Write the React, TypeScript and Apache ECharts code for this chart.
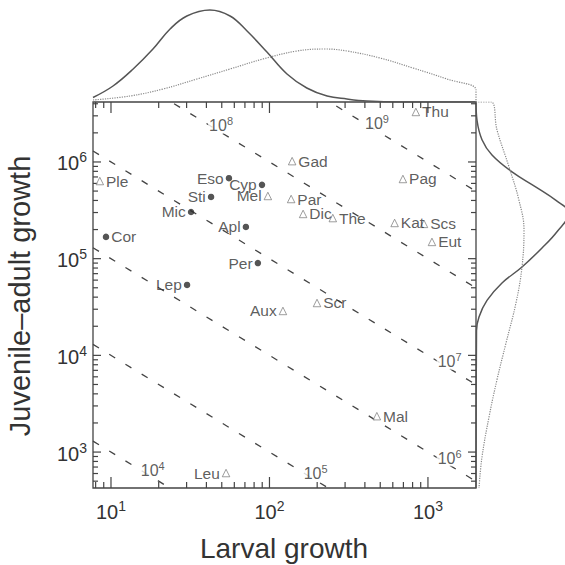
import React, { useEffect, useRef } from "react";
import * as echarts from "echarts";

// Axis ranges (read from the frame edges)
const X_MIN = 7.7;
const X_MAX = 2010;
const Y_MIN = 425;
const Y_MAX = 4.17e6;

// Filled circles
const circleNames = ["Cor", "Eso", "Cyp", "Sti", "Mic", "Apl", "Per", "Lep"];
const circleX = [9.3, 55.5, 89.7, 42.8, 32, 71, 84.5, 30.2];
const circleY = [1.68e5, 6.8e5, 5.8e5, 4.35e5, 3.04e5, 2.13e5, 9.0e4, 5.35e4];
const circleSide = ["right", "left", "left", "left", "left", "left", "left", "left"];

// Open triangles
const triNames = ["Ple", "Mel", "Aux", "Scr", "Mal", "Leu", "Gad", "Par", "Dic", "The", "Pag", "Kat", "Scs", "Eut", "Thu"];
const triX = [8.5, 97.7, 121.6, 199.5, 476, 53.2, 139, 137, 163, 251, 695, 616, 944, 1060, 839];
const triY = [6.35e5, 4.45e5, 2.88e4, 3.48e4, 2.35e3, 607, 1.02e6, 4.14e5, 2.9e5, 2.63e5, 6.67e5, 2.34e5, 2.29e5, 1.49e5, 3.29e6];
const triSide = ["right", "left", "left", "right", "right", "left", "right", "right", "right", "right", "right", "right", "right", "right", "right"];

// Iso-lines x*y = 10^k and where their labels sit (x position)
const isoLevels = [4, 5, 6, 7, 8, 9];
const isoLabelX = [15.2, 162, 1135, 1135, 41, 395];

// Tick positions
const xTicksMajor = [10, 100, 1000];
const xTicksMinor = [8, 9, 20, 30, 40, 50, 60, 70, 80, 90, 200, 300, 400, 500, 600, 700, 800, 900];
const yTicksMajor = [1e3, 1e4, 1e5, 1e6];
const yTicksMinor = [500, 600, 700, 800, 900, 2e3, 3e3, 4e3, 5e3, 6e3, 7e3, 8e3, 9e3, 2e4, 3e4, 4e4, 5e4, 6e4, 7e4, 8e4, 9e4, 2e5, 3e5, 4e5, 5e5, 6e5, 7e5, 8e5, 9e5, 2e6, 3e6, 4e6];

// Top marginal densities (height in px above the frame)
const topSolidX = [7.7, 10.3, 13.8, 18.4, 23.6, 30.1, 42.1, 56.4, 72.2, 96.4, 129, 172, 231, 308, 412, 665, 2010];
const topSolidH = [4.5, 16, 33, 53, 73, 86, 92, 86, 71, 50, 28, 14, 6, 3, 1, 0, 0];
const topDotX = [7.7, 13.2, 21.3, 34.9, 56.4, 91, 149, 224, 308, 498, 804, 1318, 2010, 2010];
const topDotH = [2, 6, 13, 23, 33, 43, 51, 53, 51, 44, 34, 23, 12, 0];

// Right marginal densities (width in px right of the frame)
const rightSolidY = [4.17e6, 2.7e6, 1.7e6, 1.18e6, 7.9e5, 5.5e5, 4.0e5, 2.97e5, 1.9e5, 1.29e5, 8.2e4, 5.6e4, 3.7e4, 2.5e4, 1.8e4, 425];
const rightSolidH = [0, 1, 6, 16, 36, 60, 80, 93, 81, 66, 46, 26, 11, 3, 0.5, 0];
const rightDotY = [4.17e6, 4.17e6, 2.14e6, 8.9e5, 4.0e5, 1.98e5, 8.2e4, 3.5e4, 1.34e4, 5.6e3, 2.3e3, 890, 425];
const rightDotH = [0, 15, 21, 33, 43, 48, 46, 40, 30, 21, 13, 6, 3];

const FONT = "'Liberation Sans', Arial, Helvetica, sans-serif";
const TEXT = "#333";
const INK = "#444";

function decadeLabel(v: number) {
  const l = Math.log10(v);
  if (Math.abs(l - Math.round(l)) < 1e-6) return `{b|10}{s|${Math.round(l)}}`;
  return "";
}

const tickRich = {
  b: { fontSize: 20, fontFamily: FONT, color: TEXT, lineHeight: 23, verticalAlign: "bottom" },
  s: { fontSize: 14, fontFamily: FONT, color: TEXT, lineHeight: 12, verticalAlign: "top" },
};
const isoRich = {
  b: { fontSize: 16, fontFamily: FONT, color: TEXT, lineHeight: 18, verticalAlign: "bottom" },
  s: { fontSize: 11, fontFamily: FONT, color: TEXT, lineHeight: 10, verticalAlign: "top" },
};

export default function App() {
  const ref = useRef<HTMLDivElement>(null);
  useEffect(() => {
    document.body.style.margin = "0";
    if (!ref.current) return;
    const chart = echarts.init(ref.current, null, { renderer: "svg" });

    const xTickData = [
      ...xTicksMajor.map((v) => [v, Y_MIN, 1]),
      ...xTicksMinor.map((v) => [v, Y_MIN, 0]),
    ];
    const yTickData = [
      ...yTicksMajor.map((v) => [X_MIN, v, 1]),
      ...yTicksMinor.map((v) => [X_MIN, v, 0]),
    ];

    const tickStyle = { stroke: INK, lineWidth: 1.2 };

    const isoLines = isoLevels.map((k) => ({
      type: "line",
      xAxisIndex: 0,
      yAxisIndex: 0,
      z: 2,
      silent: true,
      showSymbol: false,
      symbol: "none",
      clip: true,
      lineStyle: { color: INK, width: 1.3, type: [7, 12] },
      data: [
        [X_MIN, Math.pow(10, k) / X_MIN],
        [X_MAX, Math.pow(10, k) / X_MAX],
      ],
    }));

    const option = {
      animation: false,
      backgroundColor: "#fff",
      textStyle: { fontFamily: FONT },
      grid: [
        { left: 93, top: 102, width: 383, height: 386, show: true, borderColor: INK, borderWidth: 1.3, backgroundColor: "transparent" },
        { left: 93, top: 0, width: 383, height: 102 },
        { left: 476, top: 102, width: 89, height: 386 },
      ],
      xAxis: [
        {
          type: "log", gridIndex: 0, min: X_MIN, max: X_MAX, logBase: 10,
          axisLine: { show: false }, axisTick: { show: false }, splitLine: { show: false },
          axisLabel: { formatter: decadeLabel, rich: tickRich, margin: 11, showMinLabel: true, showMaxLabel: true },
        },
        { type: "log", gridIndex: 1, min: X_MIN, max: X_MAX, show: false },
        { type: "value", gridIndex: 2, min: 0, max: 89, show: false },
      ],
      yAxis: [
        {
          type: "log", gridIndex: 0, min: Y_MIN, max: Y_MAX, logBase: 10,
          axisLine: { show: false }, axisTick: { show: false }, splitLine: { show: false },
          axisLabel: { formatter: decadeLabel, rich: tickRich, margin: 6 },
        },
        { type: "value", gridIndex: 1, min: 0, max: 102, show: false },
        { type: "log", gridIndex: 2, min: Y_MIN, max: Y_MAX, show: false },
      ],
      graphic: [
        {
          type: "text", x: 284, y: 548,
          style: { text: "Larval growth", fontSize: 28, fontFamily: FONT, fill: TEXT, align: "center", verticalAlign: "middle" },
        },
        {
          type: "text", x: 20, y: 296, rotation: Math.PI / 2,
          style: { text: "Juvenile\u2013adult growth", fontSize: 29, fontFamily: FONT, fill: TEXT, align: "center", verticalAlign: "middle" },
        },
      ],
      series: [
        ...isoLines,
        {
          type: "scatter", xAxisIndex: 0, yAxisIndex: 0, z: 3, silent: true,
          symbolSize: 0,
          data: isoLevels.map((k, i) => ({ name: String(k), value: [isoLabelX[i], Math.pow(10, k) / isoLabelX[i]] })),
          label: {
            show: true, position: "right", distance: 0,
            formatter: (p: any) => `{b|10}{s|${p.name}}`,
            rich: isoRich, backgroundColor: "#fff", padding: [0, 1, 0, 1],
          },
        },
        {
          type: "custom", xAxisIndex: 0, yAxisIndex: 0, z: 4, silent: true,
          encode: { x: 0, y: 1 },
          data: xTickData,
          renderItem: (params: any, api: any) => {
            const cs = params.coordSys;
            const px = api.coord([api.value(0), Y_MIN])[0];
            const len = api.value(2) ? 11 : 6;
            const bottom = cs.y + cs.height;
            return {
              type: "group",
              children: [
                { type: "line", shape: { x1: px, y1: bottom, x2: px, y2: bottom - len }, style: tickStyle },
                { type: "line", shape: { x1: px, y1: cs.y, x2: px, y2: cs.y + len }, style: tickStyle },
              ],
            };
          },
        },
        {
          type: "custom", xAxisIndex: 0, yAxisIndex: 0, z: 4, silent: true,
          encode: { x: 0, y: 1 },
          data: yTickData,
          renderItem: (params: any, api: any) => {
            const cs = params.coordSys;
            const py = api.coord([X_MIN, api.value(1)])[1];
            const len = api.value(2) ? 8 : 5;
            const right = cs.x + cs.width;
            return {
              type: "group",
              children: [
                { type: "line", shape: { x1: cs.x, y1: py, x2: cs.x + len, y2: py }, style: tickStyle },
                { type: "line", shape: { x1: right, y1: py, x2: right - len, y2: py }, style: tickStyle },
              ],
            };
          },
        },
        {
          type: "scatter", xAxisIndex: 0, yAxisIndex: 0, z: 5,
          symbol: "circle", symbolSize: 6.5,
          itemStyle: { color: "#2a2a2a" },
          data: circleNames.map((n, i) => ({ name: n, value: [circleX[i], circleY[i]], label: { position: circleSide[i] } })),
          label: { show: true, formatter: "{b}", fontSize: 15.5, fontFamily: FONT, color: TEXT, distance: 2 },
        },
        {
          type: "scatter", xAxisIndex: 0, yAxisIndex: 0, z: 5,
          symbol: "triangle", symbolSize: 7.5,
          itemStyle: { color: "#fff", borderColor: "#777", borderWidth: 0.9 },
          data: triNames.map((n, i) => ({ name: n, value: [triX[i], triY[i]], label: { position: triSide[i] } })),
          label: { show: true, formatter: "{b}", fontSize: 15.5, fontFamily: FONT, color: TEXT, distance: 2 },
        },
        {
          type: "line", xAxisIndex: 1, yAxisIndex: 1, silent: true, showSymbol: false, symbol: "none",
          smooth: 0.4, clip: true,
          lineStyle: { color: "#555", width: 1.5 },
          data: topSolidX.map((x, i) => [x, topSolidH[i]]),
        },
        {
          type: "line", xAxisIndex: 1, yAxisIndex: 1, silent: true, showSymbol: false, symbol: "none",
          smooth: 0.4, clip: true,
          lineStyle: { color: "#888", width: 1.2, type: "dotted" },
          data: topDotX.map((x, i) => [x, topDotH[i]]),
        },
        {
          type: "line", xAxisIndex: 2, yAxisIndex: 2, silent: true, showSymbol: false, symbol: "none",
          smooth: 0.4, clip: true,
          lineStyle: { color: "#555", width: 1.5 },
          data: rightSolidY.map((y, i) => [rightSolidH[i], y]),
        },
        {
          type: "line", xAxisIndex: 2, yAxisIndex: 2, silent: true, showSymbol: false, symbol: "none",
          smooth: 0.4, clip: true,
          lineStyle: { color: "#888", width: 1.2, type: "dotted" },
          data: rightDotY.map((y, i) => [rightDotH[i], y]),
        },
      ],
    };

    chart.setOption(option as any);
    return () => chart.dispose();
  }, []);

  return <div ref={ref} style={{ width: 565, height: 565 }} />;
}
